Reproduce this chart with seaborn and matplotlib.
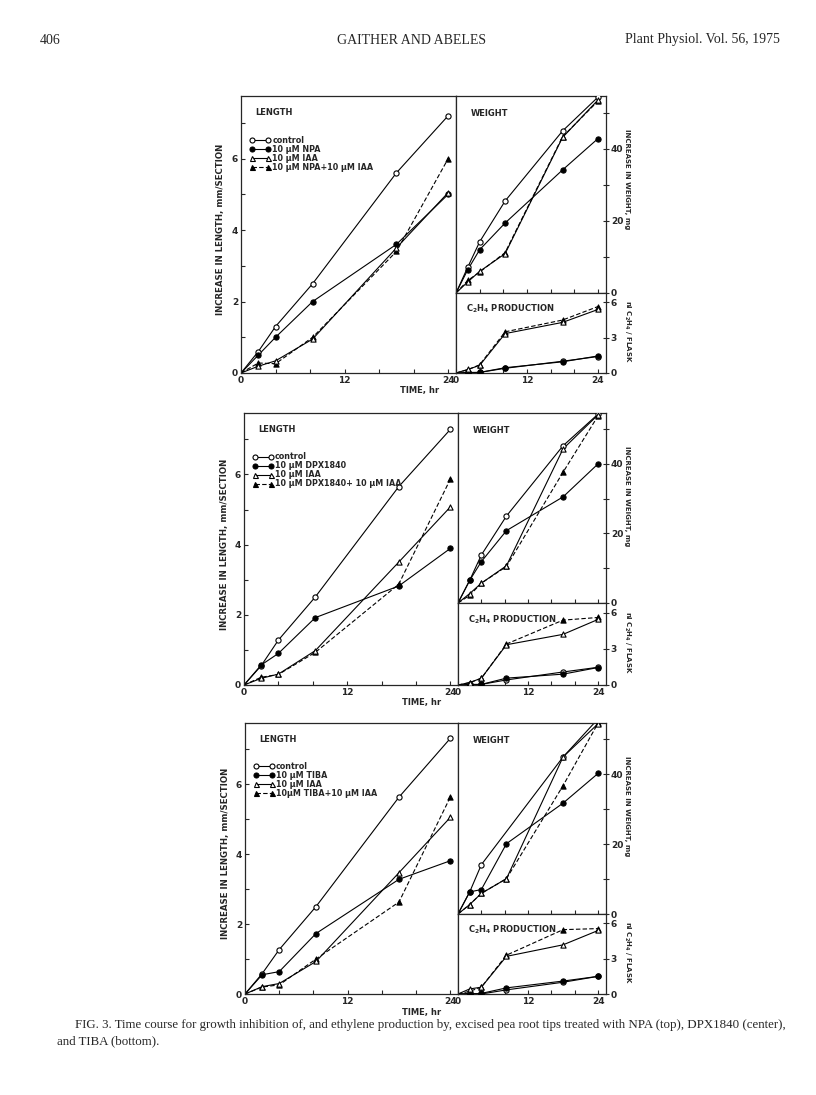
import matplotlib
matplotlib.use('Agg')
import matplotlib.pyplot as plt
from matplotlib.lines import Line2D
import numpy as np
import pandas as pd
import seaborn as sns

# Time points (hr)
hours = [0, 2, 4, 8.3, 18, 24]

drugs = ['NPA', 'DPX1840', 'TIBA']
drug_labels = ['10 \u03bcM NPA', '10 \u03bcM DPX1840', '10 \u03bcM TIBA']
combo_labels = ['10 \u03bcM NPA+10 \u03bcM IAA', '10 \u03bcM DPX1840+ 10 \u03bcM IAA', '10\u03bcM TIBA+10 \u03bcM IAA']

# Increase in length, mm/section
len_ctrl = [[0, 0.6, 1.3, 2.5, 5.6, 7.2],
            [0, 0.55, 1.28, 2.51, 5.65, 7.28],
            [0, 0.58, 1.27, 2.5, 5.63, 7.31]]
len_drug = [[0, 0.5, 1.0, 2.0, 3.6, 5.0],
            [0, 0.57, 0.9, 1.92, 2.82, 3.89],
            [0, 0.55, 0.64, 1.73, 3.28, 3.81]]
len_iaa = [[0, 0.19, 0.34, 0.95, 3.5, 5.05],
           [0, 0.19, 0.31, 0.98, 3.5, 5.07],
           [0, 0.21, 0.3, 0.93, 3.47, 5.05]]
len_combo = [[0, 0.28, 0.26, 1.0, 3.4, 6.0],
             [0, 0.22, 0.3, 0.93, 2.87, 5.86],
             [0, 0.2, 0.26, 1.0, 2.63, 5.63]]

# Increase in weight, mg
wt_ctrl = [[0, 7.2, 14.2, 25.5, 44.9, 54.3],
           [0, 6.5, 13.8, 25.0, 45.2, 54.3],
           [0, 6.3, 14.1, np.nan, 44.9, 55.8]]
wt_drug = [[0, 6.5, 12.0, 19.4, 34.1, 42.8],
           [0, 6.5, 11.9, 20.8, 30.5, 40.0],
           [0, 6.3, 7.0, 20.1, 31.7, 40.2]]
wt_iaa = [[0, 3.1, 6.0, 10.9, 43.1, 53.5],
          [0, 2.7, 5.7, 10.7, 44.3, 54.1],
          [0, 2.7, 5.9, 10.1, 44.9, 54.4]]
wt_combo = [[0, 3.5, 5.8, 11.2, 43.3, 53.2],
            [0, 2.2, 5.7, 10.5, 37.6, 53.8],
            [0, 2.7, 5.9, 10.1, 36.7, 54.6]]

# Ethylene, nl C2H4 / flask
eth_ctrl = [[0, 0.05, 0.05, 0.4, 1.0, 1.4],
            [0, 0.05, 0.05, 0.42, 1.08, 1.47],
            [0, 0.05, 0.0, 0.35, 1.0, 1.5]]
eth_drug = [[0, 0.02, 0.05, 0.45, 0.95, 1.45],
            [0, 0.0, 0.05, 0.57, 0.9, 1.45],
            [0, 0.0, 0.05, 0.52, 1.1, 1.5]]
eth_iaa = [[0, 0.3, 0.65, 3.35, 4.3, 5.4],
           [0, 0.2, 0.57, 3.34, 4.2, 5.44],
           [0, 0.43, 0.58, 3.2, 4.18, 5.4]]
eth_combo = [[0, 0.28, 0.7, 3.5, 4.5, 5.65],
             [0, 0.2, 0.55, 3.4, 5.38, 5.6],
             [0, 0.23, 0.58, 3.3, 5.47, 5.56]]

W, H = 816, 1095

sns.set_style('ticks')
plt.rcParams['font.family'] = ['DejaVu Sans']
plt.rcParams['font.weight'] = 'bold'
plt.rcParams['axes.linewidth'] = 0.9

fig = plt.figure(figsize=(W / 100, H / 100), dpi=100)
fig.patch.set_facecolor('white')


def px_ax(x0, y0, x1, y1):
    return fig.add_axes([x0 / W, 1 - y1 / H, (x1 - x0) / W, (y1 - y0) / H])


def ftext(x, y, s, **kw):
    fig.text(x / W, 1 - y / H, s, **kw)


# (marker, open, dashed)
styles = [('o', True, False), ('o', False, False), ('^', True, False), ('^', False, True)]
DASH = (0, (4, 2))


def draw(ax, vals, marker, open_, dashed):
    y = np.array(vals, dtype=float)
    ok = ~np.isnan(y)
    df = pd.DataFrame({'t': np.array(hours)[ok], 'v': y[ok]})
    sns.lineplot(data=df, x='t', y='v', ax=ax, color='black', linewidth=0.8,
                 linestyle=DASH if dashed else '-', errorbar=None, legend=False)
    pts = df.iloc[1:]
    sns.scatterplot(data=pts, x='t', y='v', ax=ax, marker=marker, s=14,
                    color='white' if open_ else 'black', edgecolor='black',
                    linewidth=0.8, legend=False, zorder=3)
    ax.set(xlabel='', ylabel='')


def set_ticks(ax, xt, xl, yt, yl, right=False):
    ax.set_xticks(xt)
    ax.set_xticklabels(xl, fontsize=6.5, fontweight='bold')
    ax.set_yticks(yt)
    ax.set_yticklabels(yl, fontsize=6.5, fontweight='bold')
    ax.tick_params(axis='x', direction='in', length=3, width=0.8, pad=2)
    if right:
        ax.yaxis.tick_right()
        ax.tick_params(axis='y', direction='inout', length=5, width=0.8, pad=1)
    else:
        ax.tick_params(axis='y', direction='in', length=3, width=0.8, pad=2)


# pixel boxes: top, split, bottom, left, mid, right
boxes = [(96, 293, 373, 241, 456, 606),
         (413, 603, 685, 244, 458, 606),
         (723, 914, 994, 245, 458, 606)]

hx = [0, 4, 8, 12, 16, 20, 24]
hxl = ['0', '', '', '12', '', '', '24']
blank = [''] * 7

for i, (top, split, bot, left, mid, right) in enumerate(boxes):
    ax_l = px_ax(left, top, mid, bot)
    ax_w = px_ax(mid, top, right, split)
    ax_e = px_ax(mid, split, right, bot)
    for ax in (ax_l, ax_w, ax_e):
        ax.set_facecolor('white')
        for sp in ax.spines.values():
            sp.set_visible(True)
            sp.set_linewidth(0.9)

    groups = [(ax_l, [len_ctrl, len_drug, len_iaa, len_combo]),
              (ax_w, [wt_ctrl, wt_drug, wt_iaa, wt_combo]),
              (ax_e, [eth_ctrl, eth_drug, eth_iaa, eth_combo])]
    for ax, series in groups:
        # dashed combo first so solid lines sit on top
        for k in [3, 0, 1, 2]:
            m, op, da = styles[k]
            draw(ax, series[k][i], m, op, da)

    ax_l.set_xlim(0, 24.9)
    ax_l.set_ylim(0, 7.75)
    set_ticks(ax_l, hx, hxl, list(range(8)), ['0', '', '2', '', '4', '', '6', ''])

    ax_w.set_xlim(0, 25.35)
    ax_w.set_ylim(0, 54.6)
    set_ticks(ax_w, hx, blank, [0, 10, 20, 30, 40, 50], ['0', '', '20', '', '40', ''], right=True)

    ax_e.set_xlim(0, 25.35)
    ax_e.set_ylim(0, 6.8)
    set_ticks(ax_e, hx, hxl, [0, 3, 6], ['0', '3', '6'], right=True)

    ax_l.text(0.065, 0.94, 'LENGTH', transform=ax_l.transAxes, fontsize=6, fontweight='bold', va='center')
    ax_w.text(0.1, 0.91, 'WEIGHT', transform=ax_w.transAxes, fontsize=6, fontweight='bold', va='center')
    ax_e.text(0.07, 0.8, r'C$_\mathbf{2}$H$_\mathbf{4}$ PRODUCTION', transform=ax_e.transAxes,
              fontsize=6, fontweight='bold', va='center')

    labels = ['control', drug_labels[i], '10 \u03bcM IAA', combo_labels[i]]
    handles = []
    for (m, op, da) in styles:
        handles.append(Line2D([0], [0], color='black', lw=0.8, ls=DASH if da else '-',
                              marker=m, markersize=3.6, markerfacecolor='white' if op else 'black',
                              markeredgecolor='black', markeredgewidth=0.8))
    ax_l.legend(handles, labels, loc='upper left', bbox_to_anchor=(0.04, 0.855), frameon=False,
                numpoints=2, handlelength=2.6, handletextpad=0.2, labelspacing=0.0,
                borderaxespad=0, borderpad=0, prop={'size': 5.8, 'weight': 'bold'})

    ftext(left - 20, (top + bot) / 2 - 5, 'INCREASE IN LENGTH, mm/SECTION', rotation=90,
          fontsize=6.2, fontweight='bold', ha='center', va='center')
    ftext(right + 21, top + 83, 'INCREASE IN WEIGHT, mg', rotation=-90,
          fontsize=5, fontweight='bold', ha='center', va='center')
    ftext(right + 21, (split + bot) / 2 - 2, r'nl C$_\mathbf{2}$H$_\mathbf{4}$ / FLASK', rotation=-90,
          fontsize=5, fontweight='bold', ha='center', va='center')
    ftext(mid - 36, bot + 18, 'TIME, hr', fontsize=6, fontweight='bold', ha='center', va='center')

# page header and caption
serif = ['Liberation Serif', 'DejaVu Serif']
ftext(40, 40, '406', fontsize=10, family=serif, fontweight='normal', va='center')
ftext(412, 40, 'GAITHER AND ABELES', fontsize=10, family=serif, fontweight='normal', ha='center', va='center')
ftext(780, 40, 'Plant Physiol. Vol. 56, 1975', fontsize=10, family=serif, fontweight='normal', ha='right', va='center')
ftext(75, 1025, 'FIG. 3. Time course for growth inhibition of, and ethylene production by, excised pea root tips '
      'treated with NPA (top), DPX1840 (center),', fontsize=9.3, family=serif, fontweight='normal', va='center')
ftext(57, 1041, 'and TIBA (bottom).', fontsize=9.3, family=serif, fontweight='normal', va='center')

fig.savefig('out.png', dpi=100, facecolor='white')
